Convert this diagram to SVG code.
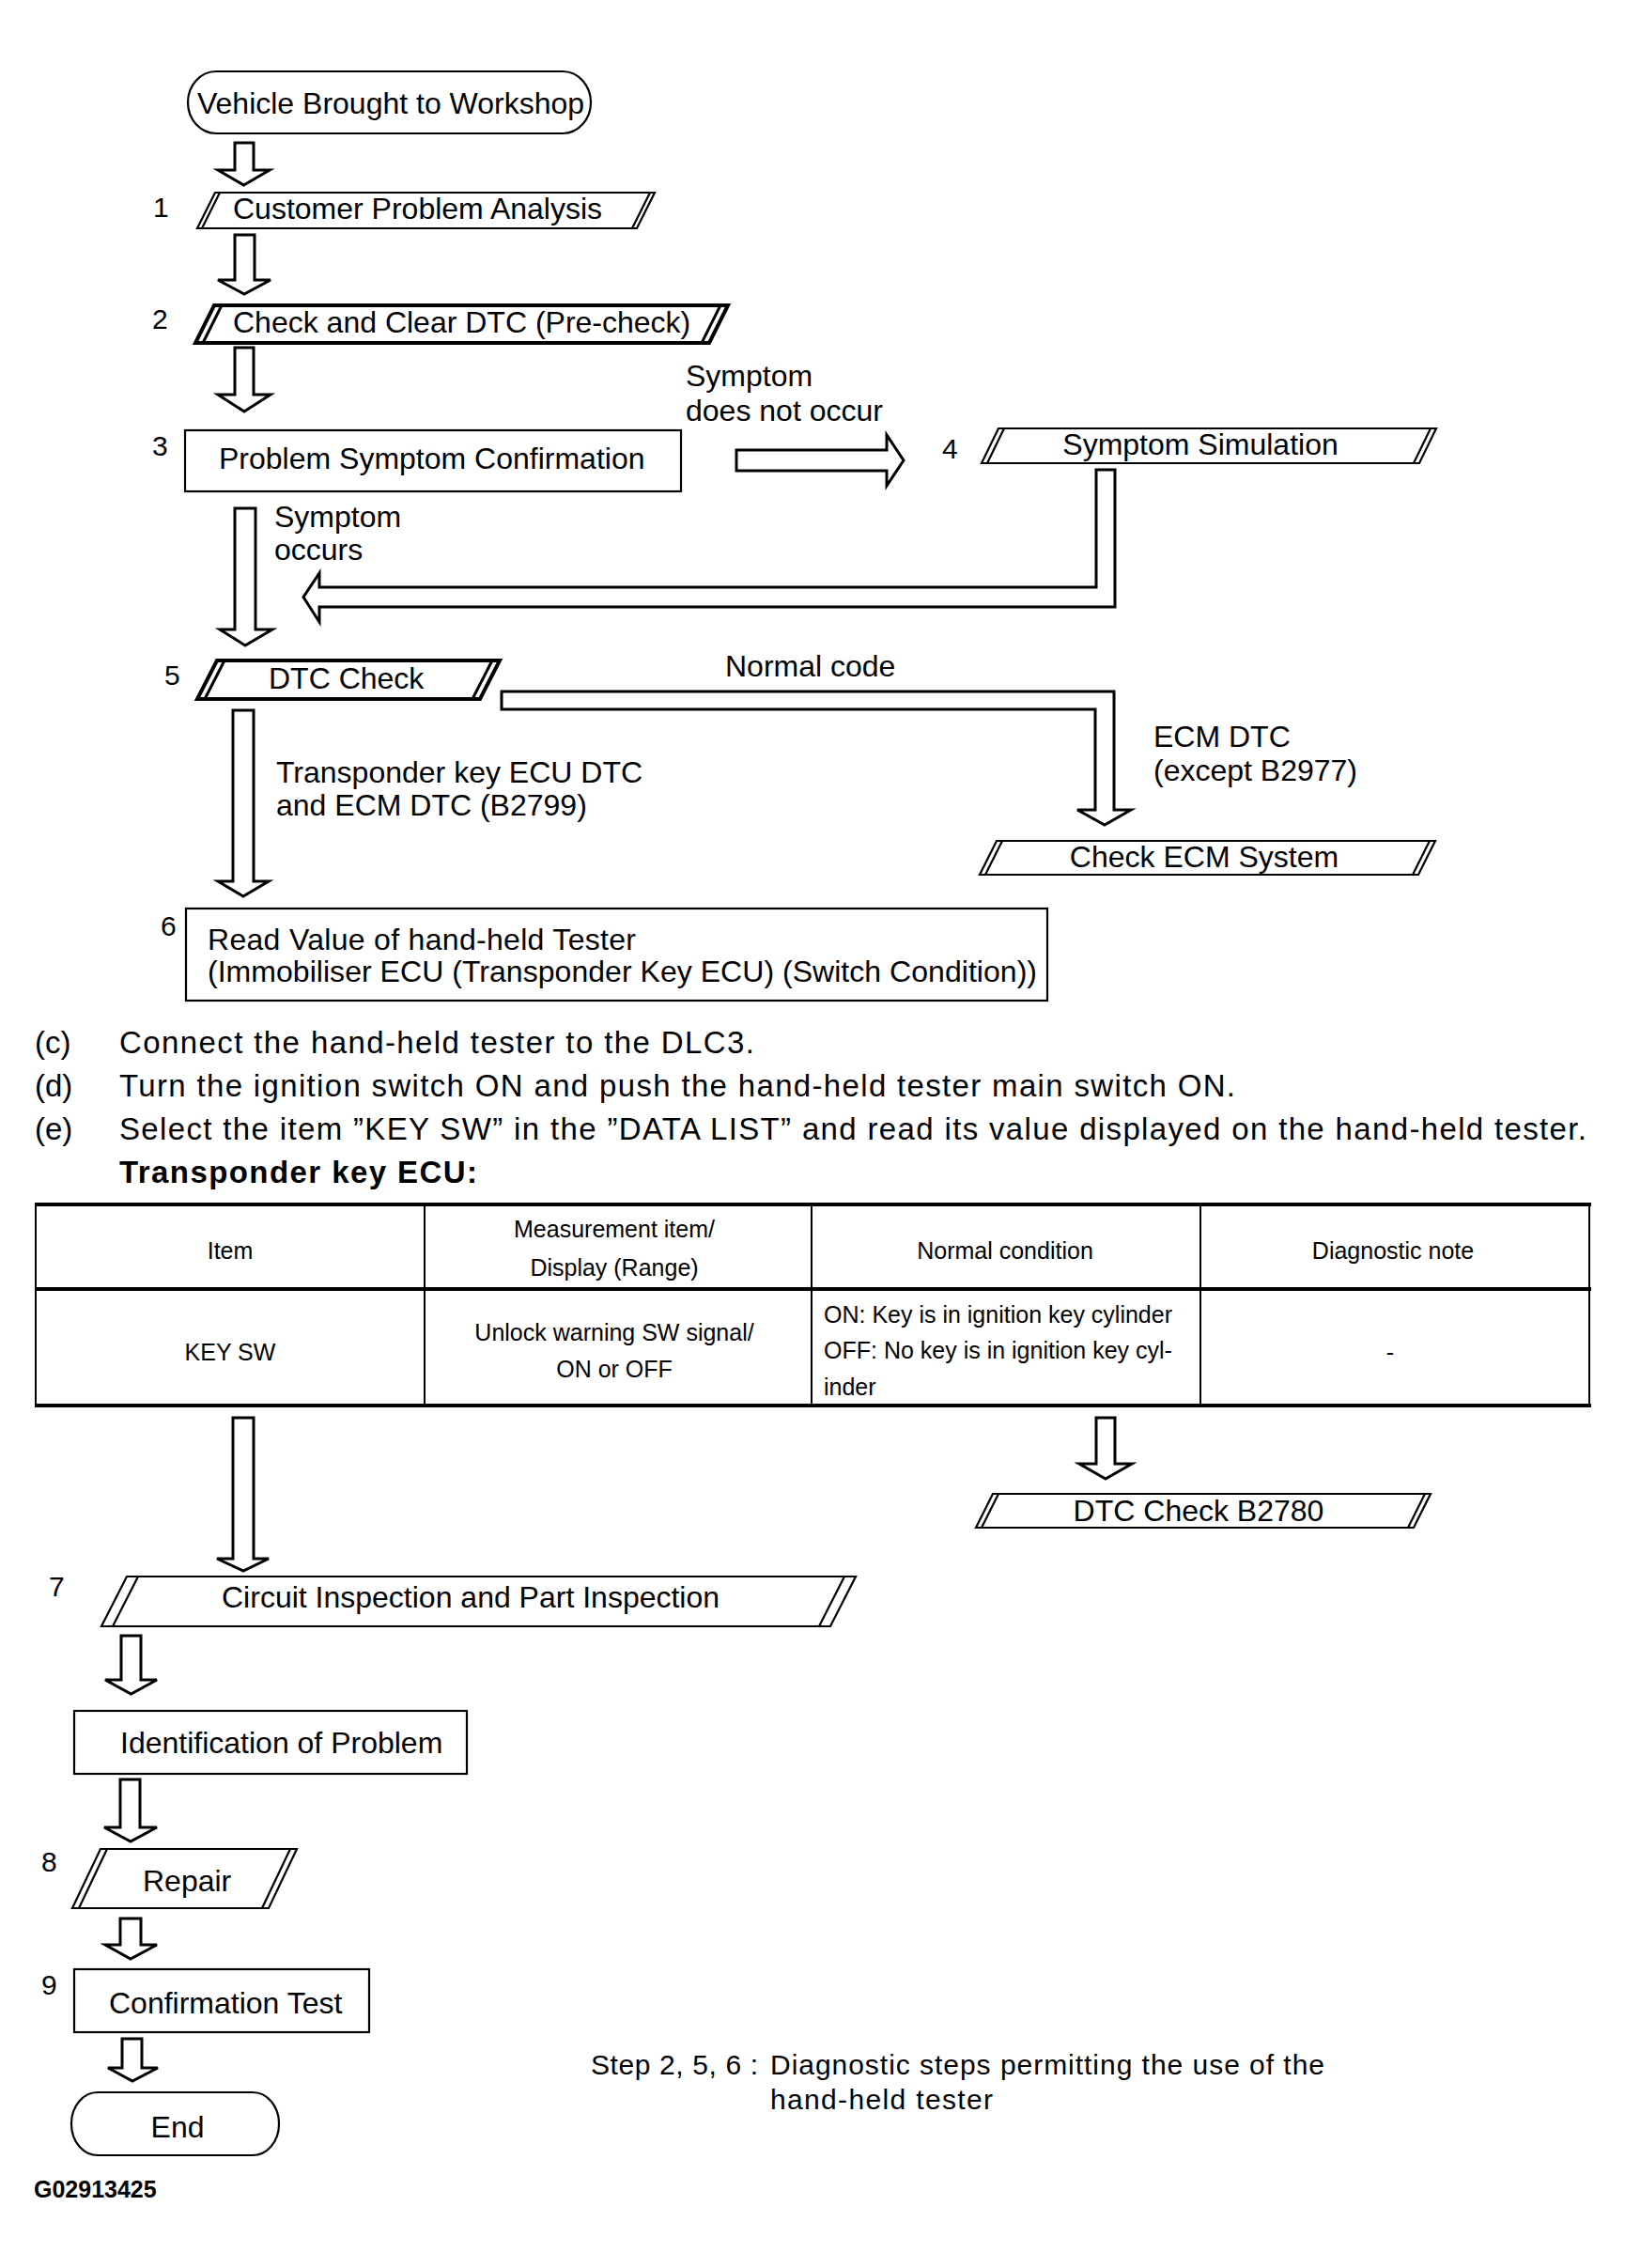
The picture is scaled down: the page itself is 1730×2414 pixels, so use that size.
<svg xmlns="http://www.w3.org/2000/svg" width="1730" height="2414" viewBox="0 0 1730 2414">
<style>
text{font-family:"Liberation Sans",Arial,Helvetica,sans-serif;fill:#000}
.t{font-size:32px}
.n{font-size:30px}
.b{font-size:33px}
.tb{font-size:25px}
.box{fill:#fff;stroke:#000;stroke-width:2.2}
.thk{fill:#fff;stroke:#000;stroke-width:4;stroke-linejoin:miter}
.ln{fill:none;stroke:#000;stroke-width:2.2}
.lnk{fill:none;stroke:#000;stroke-width:3}
.arr{fill:#fff;stroke:#000;stroke-width:3;stroke-linejoin:miter}
.grid{stroke:#000;stroke-width:2}
.grid4{stroke:#000;stroke-width:4}
</style>
<rect width="1730" height="2414" fill="#fff"/>

<g id="connectors">
<path class="arr" d="M250,152 H270 V181 H287 L259.5,197 L232,181 H250 Z"/>
<path class="arr" d="M250,250 H271 V298 H288 L260,313 L232,298 H250 Z"/>
<path class="arr" d="M250,370 H270 V420 H288 L260,438 L232,420 H250 Z"/>
<path class="arr" d="M784,479 H944 V463 L962,490 L944,517 V501 H784 Z"/>
<path class="arr" d="M1167,500 H1187 V646 H340 V662 L323,635.5 L340,610 V625 H1167 Z"/>
<path class="arr" d="M250,541 H272 V670 H290 L261,687 L234,670 H250 Z"/>
<path class="arr" d="M534,736 H1186 V862 H1204 L1176,878 L1147,862 H1166 V755 H534 Z"/>
<path class="arr" d="M248,756 H270 V938 H286 L259,954 L232,938 H248 Z"/>
<path class="arr" d="M248,1509 H270 V1659 H286 L259,1672 L231,1659 H248 Z"/>
<path class="arr" d="M1167,1509 H1187 V1558 H1205 L1177,1574 L1149,1558 H1167 Z"/>
<path class="arr" d="M129,1741 H150 V1788 H167 L139.5,1803 L112,1788 H129 Z"/>
<path class="arr" d="M128,1894 H149 V1945 H167 L139,1960 L111,1945 H128 Z"/>
<path class="arr" d="M128,2042 H150 V2070 H167 L139,2085 L112,2070 H128 Z"/>
<path class="arr" d="M130,2170 H151 V2201 H168 L141,2215 L115,2201 H130 Z"/>
</g>

<g id="node-start">
<rect class="box" x="200" y="76" width="429" height="66" rx="30" ry="33"/>
<text class="t" x="416" y="121" text-anchor="middle">Vehicle Brought to Workshop</text>
</g>

<g id="node-1">
<text class="n" x="163" y="231">1</text>
<path class="box" d="M229,205 H697 L678,243 H210 Z"/>
<path class="ln" d="M215,243 L234,205 M692,205 L673,243"/>
<text class="t" x="248" y="233">Customer Problem Analysis</text>
</g>

<g id="node-2">
<text class="n" x="162" y="350">2</text>
<path class="thk" d="M228,325 H775 L755,365 H208 Z"/>
<path class="lnk" d="M216,365 L236,325 M767,325 L747,365"/>
<text class="t" x="248" y="354">Check and Clear DTC (Pre-check)</text>
</g>

<g id="node-3">
<text class="n" x="162" y="485">3</text>
<rect class="box" x="197" y="458" width="528" height="65"/>
<text class="t" x="233" y="499">Problem Symptom Confirmation</text>
</g>

<g id="label-not-occur">
<text class="t" x="730" y="411">Symptom</text>
<text class="t" x="730" y="448">does not occur</text>
</g>

<g id="label-occurs">
<text class="t" x="292" y="561">Symptom</text>
<text class="t" x="292" y="596">occurs</text>
</g>

<g id="node-4">
<text class="n" x="1003" y="488">4</text>
<path class="box" d="M1063,456 H1529 L1511,493 H1045 Z"/>
<path class="ln" d="M1051,493 L1069,456 M1523,456 L1505,493"/>
<text class="t" x="1278" y="484" text-anchor="middle">Symptom Simulation</text>
</g>

<g id="node-5">
<text class="n" x="175" y="729">5</text>
<path class="thk" d="M231,703 H532 L511,744 H210 Z"/>
<path class="lnk" d="M218,744 L239,703 M524,703 L503,744"/>
<text class="t" x="286" y="733">DTC Check</text>
</g>

<g id="label-normal">
<text class="t" x="772" y="720">Normal code</text>
</g>

<g id="label-ecm">
<text class="t" x="1228" y="795">ECM DTC</text>
<text class="t" x="1228" y="831">(except B2977)</text>
</g>

<g id="node-ecm">
<path class="box" d="M1061,895 H1528 L1510,931 H1043 Z"/>
<path class="ln" d="M1049,931 L1067,895 M1522,895 L1504,931"/>
<text class="t" x="1282" y="923" text-anchor="middle">Check ECM System</text>
</g>

<g id="label-transponder">
<text class="t" x="294" y="833">Transponder key ECU DTC</text>
<text class="t" x="294" y="868">and ECM DTC (B2799)</text>
</g>

<g id="node-6">
<text class="n" x="171" y="996">6</text>
<rect class="box" x="198" y="967" width="917" height="98"/>
<text class="t" x="221" y="1011" textLength="456" lengthAdjust="spacing">Read Value of hand-held Tester</text>
<text class="t" x="221" y="1045" textLength="883" lengthAdjust="spacing">(Immobiliser ECU (Transponder Key ECU) (Switch Condition))</text>
</g>

<g id="instructions">
<text class="b" x="37" y="1121">(c)</text>
<text class="b" x="127" y="1121" textLength="676" lengthAdjust="spacing">Connect the hand-held tester to the DLC3.</text>
<text class="b" x="37" y="1167">(d)</text>
<text class="b" x="127" y="1167" textLength="1188" lengthAdjust="spacing">Turn the ignition switch ON and push the hand-held tester main switch ON.</text>
<text class="b" x="37" y="1213">(e)</text>
<text class="b" x="127" y="1213" textLength="1562" lengthAdjust="spacing">Select the item ”KEY SW” in the ”DATA LIST” and read its value displayed on the hand-held tester.</text>
<text class="b" x="127" y="1259" font-weight="bold" textLength="381" lengthAdjust="spacing">Transponder key ECU:</text>
</g>

<g id="table">
<line class="grid" x1="38" y1="1282" x2="38" y2="1496"/>
<line class="grid" x1="1692" y1="1282" x2="1692" y2="1496"/>
<line class="grid" x1="452" y1="1282" x2="452" y2="1496"/>
<line class="grid" x1="864" y1="1282" x2="864" y2="1496"/>
<line class="grid" x1="1278" y1="1282" x2="1278" y2="1496"/>
<line class="grid4" x1="37" y1="1282" x2="1694" y2="1282"/>
<line class="grid4" x1="37" y1="1372" x2="1694" y2="1372"/>
<line class="grid4" x1="37" y1="1496" x2="1694" y2="1496"/>
<text class="tb" x="245" y="1340" text-anchor="middle">Item</text>
<text class="tb" x="654" y="1317" text-anchor="middle">Measurement item/</text>
<text class="tb" x="654" y="1358" text-anchor="middle">Display (Range)</text>
<text class="tb" x="1070" y="1340" text-anchor="middle">Normal condition</text>
<text class="tb" x="1483" y="1340" text-anchor="middle">Diagnostic note</text>
<text class="tb" x="245" y="1448" text-anchor="middle">KEY SW</text>
<text class="tb" x="654" y="1427" text-anchor="middle">Unlock warning SW signal/</text>
<text class="tb" x="654" y="1466" text-anchor="middle">ON or OFF</text>
<text class="tb" x="877" y="1408">ON: Key is in ignition key cylinder</text>
<text class="tb" x="877" y="1446">OFF: No key is in ignition key cyl-</text>
<text class="tb" x="877" y="1485">inder</text>
<text class="tb" x="1480" y="1448" text-anchor="middle">-</text>
</g>

<g id="node-b2780">
<path class="box" d="M1057,1590 H1523 L1505,1626 H1039 Z"/>
<path class="ln" d="M1045,1626 L1063,1590 M1517,1590 L1499,1626"/>
<text class="t" x="1276" y="1619" text-anchor="middle">DTC Check B2780</text>
</g>

<g id="node-7">
<text class="n" x="52" y="1699">7</text>
<path class="box" d="M135,1678 H911 L884,1731 H108 Z"/>
<path class="ln" d="M120,1731 L147,1678 M899,1678 L872,1731"/>
<text class="t" x="236" y="1711">Circuit Inspection and Part Inspection</text>
</g>

<g id="node-identification">
<rect class="box" x="79" y="1821" width="418" height="67"/>
<text class="t" x="128" y="1866">Identification of Problem</text>
</g>

<g id="node-8">
<text class="n" x="44" y="1992">8</text>
<path class="box" d="M107,1968 H316 L286,2031 H77 Z"/>
<path class="ln" d="M84,2031 L114,1968 M309,1968 L279,2031"/>
<text class="t" x="152" y="2013">Repair</text>
</g>

<g id="node-9">
<text class="n" x="44" y="2123">9</text>
<rect class="box" x="79" y="2096" width="314" height="67"/>
<text class="t" x="116" y="2143">Confirmation Test</text>
</g>

<g id="node-end">
<rect class="box" x="76" y="2227" width="221" height="67" rx="28" ry="33"/>
<text class="t" x="189" y="2275" text-anchor="middle">End</text>
</g>

<g id="note">
<text class="n" x="629" y="2208" textLength="178" lengthAdjust="spacing">Step 2, 5, 6 :</text>
<text class="n" x="820" y="2208" textLength="590" lengthAdjust="spacing">Diagnostic steps permitting the use of the</text>
<text class="n" x="820" y="2245" textLength="237" lengthAdjust="spacing">hand-held  tester</text>
</g>

<g id="figure-code">
<text x="36" y="2339" font-size="25" font-weight="bold">G02913425</text>
</g>
</svg>
